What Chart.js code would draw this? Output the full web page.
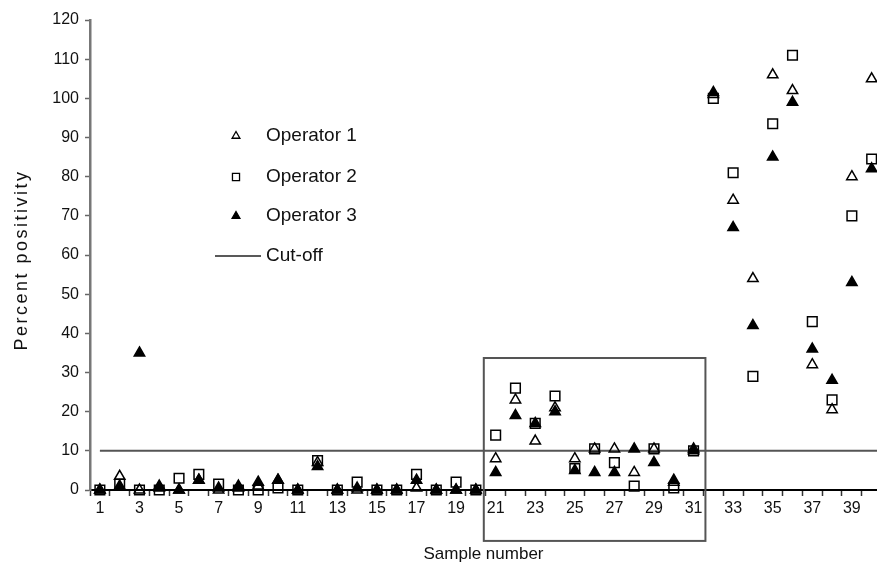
<!DOCTYPE html>
<html>
<head>
<meta charset="utf-8">
<script src="https://cdn.jsdelivr.net/npm/chart.js@4/dist/chart.umd.min.js"></script>
<style>
  html, body { margin: 0; padding: 0; background: #fff; }
  #wrap { width: 877px; height: 580px; }
</style>
</head>
<body>
<div id="wrap"><canvas id="positivityChart"></canvas></div>
<script>
// Sample numbers and percent positivity per operator
const samples = [1, 2, 3, 4, 5, 6, 7, 8, 9, 10, 11, 12, 13, 14, 15, 16, 17, 18, 19, 20,
  21, 22, 23, 24, 25, 26, 27, 28, 29, 30, 31, 32, 33, 34, 35, 36, 37, 38, 39, 40];
const operator1 = [0, 3.5, 0, 0.5, 0, 2.5, 0, 0.5, 1, 2.5, 0, 7, 0, 0, 0, 0, 0.5, 0, 0, 0,
  8, 23, 12.5, 21, 8, 10.5, 10.5, 4.5, 10.5, 2, 10.5, 101, 74, 54, 106, 102, 32, 20.5, 80, 105];
const operator2 = [0, 1.5, 0, 0, 3, 4, 1.5, 0, 0, 0.5, 0, 7.5, 0, 2, 0, 0, 4, 0, 2, 0,
  14, 26, 17, 24, 5.5, 10.5, 7, 1, 10.5, 0.5, 10, 100, 81, 29, 93.5, 111, 43, 23, 70, 84.5];
const operator3 = [0, 1, 35, 1, 0, 2.5, 0.5, 1, 2, 2.5, 0, 6, 0, 0.5, 0, 0, 2.5, 0, 0, 0,
  4.5, 19, 17, 20, 5, 4.5, 4.5, 10.5, 7, 2.5, 10, 101.5, 67, 42, 85, 99, 36, 28, 53, 82];
const cutoff = 10;
const yTicks = [0, 10, 20, 30, 40, 50, 60, 70, 80, 90, 100, 110, 120];

// highlighted block of samples (sample range, value range)
const boxSamples = [20.4, 31.6];
const boxValues = [-13, 33.7];

const FONT = "'Liberation Sans', Arial, sans-serif";

function pairs(vals) {
  return samples.map((s, i) => ({ x: s, y: vals[i] }));
}

const legendItems = [
  { text: 'Operator 1', style: 'triangle', fill: 'rgba(0,0,0,0)' },
  { text: 'Operator 2', style: 'rect', fill: 'rgba(0,0,0,0)' },
  { text: 'Operator 3', style: 'triangle', fill: '#000' },
  { text: 'Cut-off', style: 'line' }
];

// legend drawn inside the plot, like the original
const innerLegend = {
  id: 'innerLegend',
  afterDraw(chart) {
    const ctx = chart.ctx;
    const ys = [136, 177, 216, 256];
    ctx.save();
    ctx.font = '19px ' + FONT;
    ctx.fillStyle = '#111';
    ctx.textBaseline = 'middle';
    legendItems.forEach((it, i) => {
      const y = ys[i];
      if (it.style === 'line') {
        ctx.strokeStyle = '#222';
        ctx.lineWidth = 1.5;
        ctx.beginPath();
        ctx.moveTo(215, y);
        ctx.lineTo(261, y);
        ctx.stroke();
      } else {
        ctx.strokeStyle = '#000';
        ctx.fillStyle = it.fill;
        ctx.lineWidth = 1.3;
        Chart.helpers.drawPoint(ctx, { pointStyle: it.style, radius: it.style === 'rect' ? 5 : 4.5, rotation: 0, borderWidth: 1.3 }, 236, y);
        ctx.fillStyle = '#111';
      }
      ctx.fillText(it.text, 266, y);
    });
    ctx.restore();
  }
};

const boxPlugin = {
  id: 'boxPlugin',
  afterDatasetsDraw(chart) {
    const { x, y } = chart.scales;
    const ctx = chart.ctx;
    const l = x.getPixelForValue(boxSamples[0]);
    const r = x.getPixelForValue(boxSamples[1]);
    const t = y.getPixelForValue(boxValues[1]);
    const b = y.getPixelForValue(boxValues[0]);
    ctx.save();
    ctx.strokeStyle = '#555';
    ctx.lineWidth = 2;
    ctx.strokeRect(l, t, r - l, b - t);
    ctx.restore();
  }
};

const yTitle = {
  id: 'yTitle',
  afterDraw(chart) {
    const ctx = chart.ctx;
    const a = chart.chartArea;
    ctx.save();
    ctx.translate(22, (a.top + a.bottom) / 2 + 5);
    ctx.rotate(-Math.PI / 2);
    ctx.font = '18px ' + FONT;
    ctx.letterSpacing = '2.5px';
    ctx.fillStyle = '#111';
    ctx.textAlign = 'center';
    ctx.textBaseline = 'middle';
    ctx.fillText('Percent positivity', 0, 0);
    ctx.restore();
  }
};

const marker = { borderColor: '#000', borderWidth: 1.5, showLine: false, clip: false };

const ctx = document.getElementById('positivityChart').getContext('2d');
const positivityChart = new Chart(ctx, {
  type: 'scatter',
  data: {
    datasets: [
      Object.assign({ label: 'Operator 1', data: pairs(operator1), pointStyle: 'triangle',
        pointRadius: 6, backgroundColor: 'rgba(0,0,0,0)' }, marker),
      Object.assign({ label: 'Operator 2', data: pairs(operator2), pointStyle: 'rect',
        pointRadius: 6.8, backgroundColor: 'rgba(0,0,0,0)' }, marker),
      Object.assign({ label: 'Operator 3', data: pairs(operator3), pointStyle: 'triangle',
        pointRadius: 6, backgroundColor: '#000' }, marker),
      {
        label: 'Cut-off',
        data: [{ x: samples[0], y: cutoff }, { x: samples[samples.length - 1] + 1, y: cutoff }],
        showLine: true, pointRadius: 0, borderColor: '#555', borderWidth: 2
      }
    ]
  },
  options: {
    responsive: true,
    maintainAspectRatio: false,
    animation: false,
    layout: { autoPadding: false, padding: { top: 20, right: 0, bottom: 0, left: 0 } },
    plugins: { legend: { display: false }, tooltip: { enabled: false } },
    scales: {
      x: {
        type: 'linear',
        min: 0.5,
        max: 40.27,
        afterBuildTicks(scale) {
          const t = [];
          samples.forEach(s => { t.push({ value: s - 0.5 }); t.push({ value: s }); });
          scale.ticks = t;
        },
        afterFit(scale) { scale.height = 90; },
        border: { color: '#000', width: 2 },
        grid: {
          drawOnChartArea: false,
          tickLength: 6,
          tickWidth: 1.5,
          tickColor: c => Number.isInteger(c.tick.value) ? 'rgba(0,0,0,0)' : '#333'
        },
        ticks: {
          autoSkip: false,
          maxRotation: 0,
          padding: 3,
          color: '#111',
          font: { family: FONT, size: 16 },
          callback: v => (Number.isInteger(v) && v % 2 === 1) ? String(v) : ''
        },
        title: {
          display: true,
          text: 'Sample number',
          color: '#111',
          font: { family: FONT, size: 17 },
          padding: { top: 4, bottom: 15 }
        }
      },
      y: {
        min: yTicks[0],
        max: yTicks[yTicks.length - 1],
        afterBuildTicks(scale) { scale.ticks = yTicks.map(v => ({ value: v })); },
        afterFit(scale) { scale.width = 90; },
        border: { color: '#777', width: 2.5 },
        grid: { drawOnChartArea: false, tickLength: 5, tickColor: '#666', tickWidth: 1.5 },
        ticks: { padding: 6, color: '#111', font: { family: FONT, size: 16 } }
      }
    }
  },
  plugins: [boxPlugin, innerLegend, yTitle]
});
</script>
</body>
</html>
